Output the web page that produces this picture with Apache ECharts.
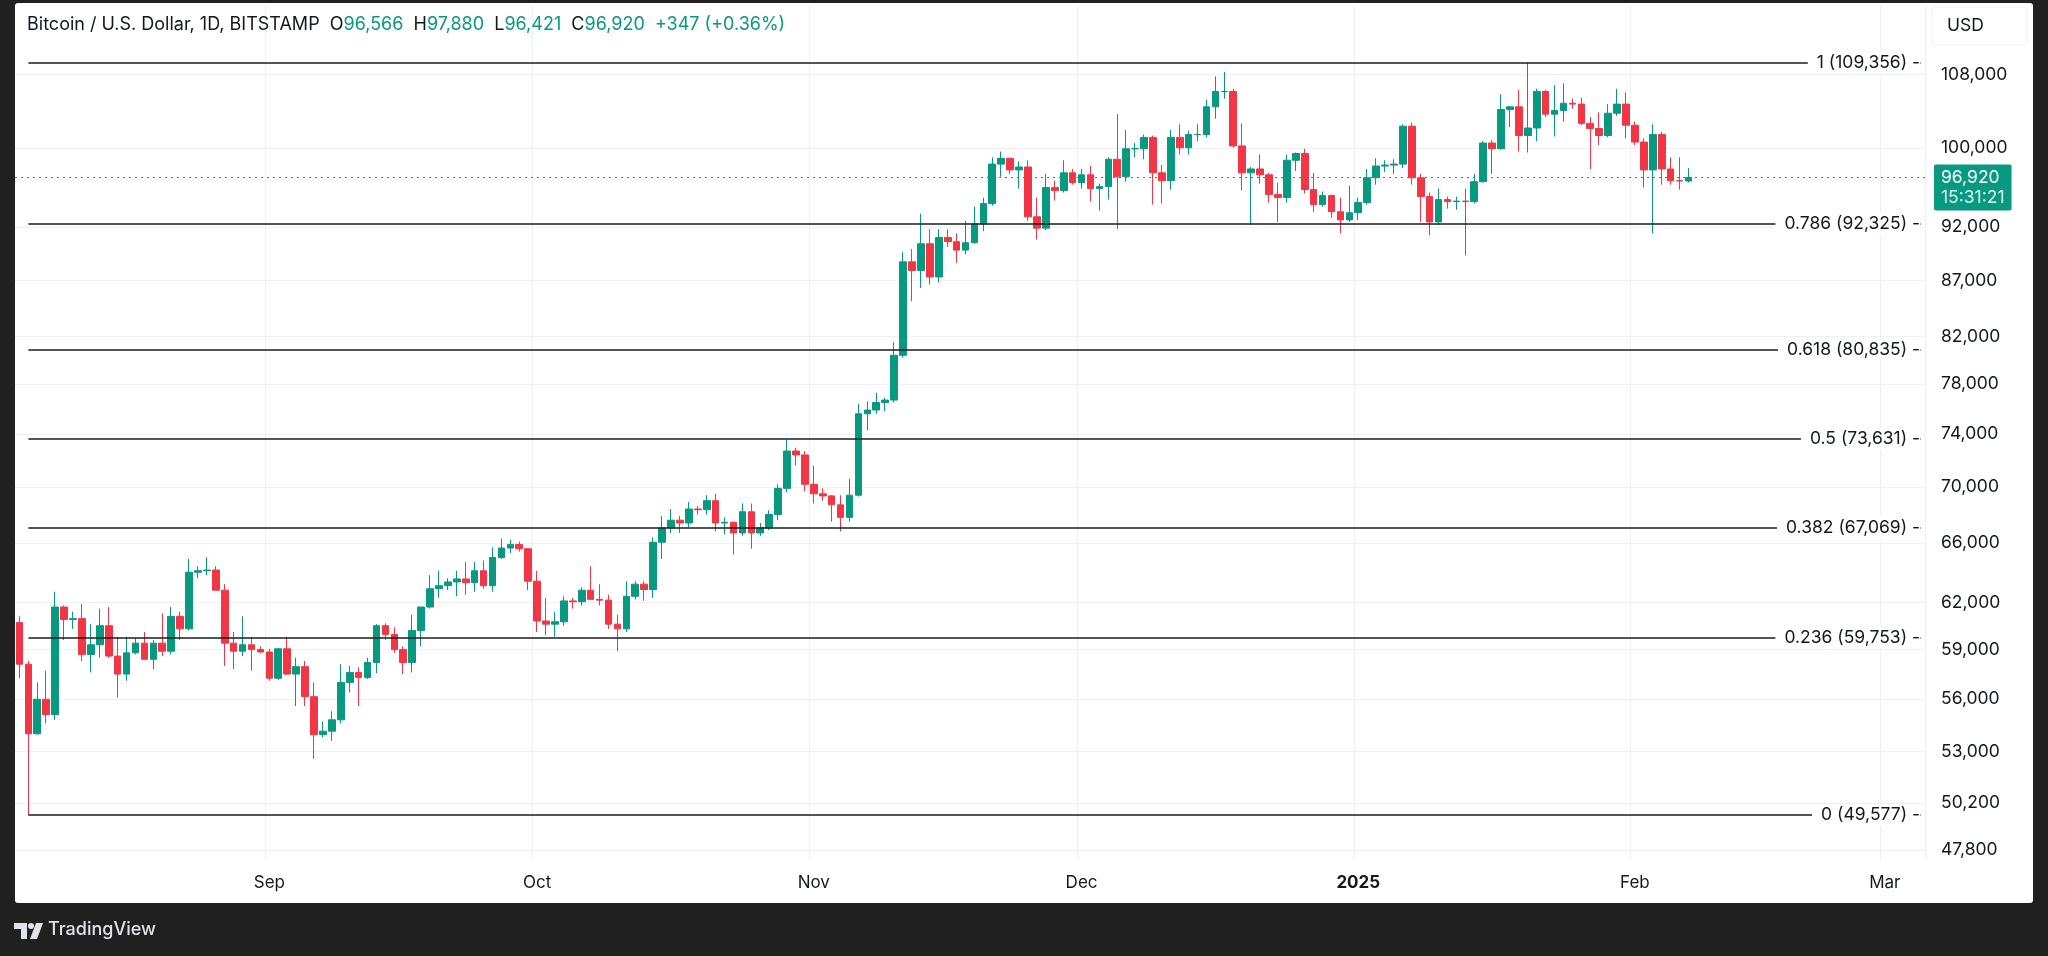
<!DOCTYPE html>
<html><head><meta charset="utf-8">
<script src="https://cdn.jsdelivr.net/npm/echarts@6/dist/echarts.min.js"></script>
<style>html,body{margin:0;padding:0;background:#202020;}#c{width:2048px;height:956px;}</style>
</head><body><div id="c"></div>
<script>
// Daily candles [open, high, low, close], BTC/USD Bitstamp
const aug = [ // Aug 4 – Aug 31, 2024
[60700,61100,57250,58100],[58100,58300,49577,54000],[54000,57000,53950,56000],[56000,57700,54600,55100],
[55100,62700,54800,61700],[61700,61800,59600,60900],[60900,61400,60300,60950],[60950,61900,58300,58700],
[58700,60600,57600,59300],[59300,61600,58500,60500],[60500,61700,58500,58600],[58600,59800,56100,57500],
[57500,59800,57100,58800],[58800,59700,58700,59400],[59400,60100,58400,58400],[58400,59600,57800,59400],
[59400,61300,58600,58900],[58900,61700,58700,61100],[61100,61400,59600,60300],[60300,64900,60200,64000],
[64000,64400,63600,64100],[64100,65000,63800,64150],[64150,64400,62800,62800],[62800,63200,58000,59400],
[59400,60100,57800,58900],[58900,61100,58600,59300],[59300,59800,57700,59000],[59000,59200,58800,58850]
];
const sep = [
[58850,59050,57100,57250],[57250,59100,57150,59050],[59050,59800,57450,57500],[57500,58500,55600,57950],
[57950,58300,55600,56150],[56150,57000,52600,53950],[53950,54700,53800,54150],[54150,55300,53600,54800],
[54800,58100,54600,57000],[57000,58000,56400,57600],[57600,57900,55600,57300],[57300,58500,57200,58200],
[58200,60600,57550,60500],[60500,60650,59600,59950],[59950,60400,58800,59000],[59000,59200,57500,58200],
[58200,61200,57600,60200],[60200,61700,59200,61700],[61700,63800,61600,62900],[62900,64100,62300,63100],
[63100,63600,62800,63350],[63350,64100,62400,63550],[63550,64700,62500,63300],[63300,64700,62700,64100],
[64100,64800,62900,63100],[63100,65700,62700,65000],[65000,66300,64900,65650],[65650,66200,65300,65900],
[65900,66100,65400,65600],[65600,65600,62800,63400]
];
const oct = [
[63400,64100,60100,60800],[60800,62300,59900,60600],[60600,61400,59800,60750],[60750,62400,60500,62100],
[62100,62300,61600,62050],[62050,63000,61800,62800],[62800,64400,62200,62200],[62200,63200,61800,62150],
[62150,62500,60300,60600],[60600,61200,58900,60300],[60300,63400,60100,62400],[62400,63400,62200,63200],
[63200,63400,62100,62850],[62850,66400,62300,66050],[66050,67900,64900,67050],[67050,68400,66700,67600],
[67600,67900,66700,67400],[67400,68900,67100,68400],[68400,68600,68000,68350],[68350,69400,68000,69000],
[69000,69500,66800,67400],[67400,67800,66600,67450],[67450,67500,65200,66700],[66700,68800,66500,68200],
[68200,68800,65600,66700],[66700,67400,66500,67050],[67050,68300,66900,68000],[68000,70200,67600,69900],
[69900,73600,69600,72700],[72700,72950,71600,72400],[72400,72700,69700,70200]
];
const nov = [
[70200,71600,68800,69500],[69500,69900,69000,69350],[69350,69400,67500,68700],[68700,69400,66800,67800],
[67800,70600,67500,69400],[69400,76400,69300,75600],[75600,76600,74300,75900],[75900,77300,75600,76500],
[76500,76900,75800,76700],[76700,81500,76500,80400],[80400,89600,80200,88700],[88700,89900,85100,87900],
[87900,93300,86300,90400],[90400,91800,86600,87300],[87300,91800,86800,91000],[91000,91800,90100,90600],
[90600,91400,88600,89800],[89800,92600,89400,90500],[90500,94000,90400,92300],[92300,94900,91600,94300],
[94300,99000,94100,98300],[98300,99600,97000,98900],[98900,98900,97300,97700],[97700,98600,95800,98000],
[98000,98700,92600,93000],[93000,94900,90800,91900],[91900,97300,91700,95900],[95900,96600,94600,95600],
[95600,98700,95400,97400],[97400,97800,96200,96400]
];
const dec = [
[96400,97800,95800,97200],[97200,98100,94500,95800],[95800,96300,93600,96000],[96000,99000,94700,98800],
[98800,103600,91800,97000],[97000,101900,96500,99900],[99900,100500,99000,99900],[99900,101400,98800,101100],
[101100,101300,94200,97400],[97400,98200,94300,96600],[96600,101900,95700,101100],[101100,102500,99300,100000],
[100000,101800,99300,101400],[101400,102500,100700,101400],[101400,105200,101100,104400],[104400,107800,103100,106100],
[106100,108300,105300,106100],[106100,106400,100000,100200],[100200,102600,95600,97400],[97400,98000,92200,97800],
[97800,99300,96300,97200],[97200,97400,94400,95200],[95200,96400,92500,94900],[94900,99300,94400,98700],
[98700,99500,97600,99400],[99400,99900,95300,95700],[95700,97400,93500,94200],[94200,95500,94000,95100],
[95100,95200,92900,93500],[93500,94900,91400,92700],[92700,96100,92500,93400]
];
const jan = [
[93400,94900,92700,94400],[94400,97800,94200,96900],[96900,98900,96200,98100],[98100,98700,97500,98200],
[98200,98800,97300,98300],[98300,102500,97900,102300],[102300,102700,96200,96900],[96900,97300,92500,95000],
[95000,95400,91200,92500],[92500,95800,92200,94700],[94700,95000,93800,94500],[94500,95000,93700,94550],
[94550,95800,89300,94500],[94500,97300,94300,96500],[96500,100700,96400,100500],[100500,100800,97300,99900],
[99900,105800,99800,104100],[104100,104500,102200,104400],[104400,106300,99600,101300],[101300,109356,99500,102100],
[102100,106400,100700,106100],[106100,106300,103300,103600],[103600,106800,101200,104000],[104000,107000,102800,104800],
[104800,105300,104200,104700],[104700,105400,102400,102600],[102600,103300,97800,102050],[102050,103800,100300,101300],
[101300,104700,101100,103700],[103700,106400,103400,104700],[104700,106000,101000,102400]
];
const feb = [ // Feb 1 – Feb 7, 2025
[102400,102800,100300,100600],[100600,101000,95900,97700],[97700,102500,91400,101400],[101400,101700,96200,97800],
[97800,99000,96200,96600],[96600,99000,95700,96573],[96566,97880,96421,96920]
];

const fibLevels = [1, 0.786, 0.618, 0.5, 0.382, 0.236, 0];
const fibPrices = [109356, 92325, 80835, 73631, 67069, 59753, 49577];
const yTicks = [47800, 50200, 53000, 56000, 59000, 62000, 66000, 70000, 74000, 78000, 82000, 87000, 92000, 100000, 108000];
const monthNames = ['Jan','Feb','Mar','Apr','May','Jun','Jul','Aug','Sep','Oct','Nov','Dec'];
const title = 'Bitcoin / U.S. Dollar, 1D, BITSTAMP';
const countdown = '15:31:21';

// categories: one per day, Aug 4 2024 to Mar 5 2025 (future days left empty)
const startDate = Date.UTC(2024, 7, 4);
const dayCount = 214;
const categories = [];
for (let i = 0; i < dayCount; i++) categories.push(new Date(startDate + i * 86400000).toISOString().slice(0, 10));

const ohlc = [...aug, ...sep, ...oct, ...nov, ...dec, ...jan, ...feb];
const candleData = ohlc.map(([o, h, l, c]) => [o, c, l, h]);

const F = 'Inter, "Noto Sans", sans-serif';
const UP = '#089981', DOWN = '#F23645', TXT = '#131722', GRID = '#eef0f3';
const fmt = v => Math.round(v).toLocaleString('en-US');
const last = ohlc[ohlc.length - 1], prev = ohlc[ohlc.length - 2];
const chg = last[3] - prev[3];
const pct = chg / prev[3] * 100;
const sign = chg >= 0 ? '+' : '';
const lastIdx = categories.length - 1;
const fibStartIdx = 1;
const isMonthStart = (i, v) => v.endsWith('-01');

const fibLines = fibPrices.map(p => [
  { coord: [fibStartIdx, p] },
  { coord: [lastIdx, p] }
]);
const fibLabels = fibPrices.map((p, i) => ({
  coord: [lastIdx, p],
  name: fibLevels[i] + ' (' + fmt(p) + ') -'
}));

const chart = echarts.init(document.getElementById('c'), null, { renderer: 'canvas' });
chart.setOption({
  backgroundColor: '#202020',
  animation: false,
  textStyle: { fontFamily: F },
  grid: { left: 15, right: 123, top: 5, bottom: 96 },
  graphic: [
    { type: 'rect', z: -10, shape: { x: 15, y: 3, width: 2018, height: 900, r: 3 }, style: { fill: '#ffffff' } },
    { type: 'rect', z: 10, shape: { x: 1932, y: 7, width: 95, height: 38, r: 4 }, style: { fill: '#ffffff', stroke: '#f0f1f3', lineWidth: 1 } },
    { type: 'text', z: 11, left: 1947, top: 17, style: { text: 'USD', fill: TXT, font: '17.5px ' + F } },
    { type: 'text', z: 11, left: 27, top: 16, style: {
        text: '{t|' + title + '}  {t|O}{g|' + fmt(last[0]) + '}  {t|H}{g|' + fmt(last[1]) + '}  {t|L}{g|' + fmt(last[2]) + '}  {t|C}{g|' + fmt(last[3]) + '}  {g|' + sign + fmt(chg) + ' (' + sign + pct.toFixed(2) + '%)}',
        font: '18px ' + F, fill: TXT,
        rich: { t: { fill: TXT, fontSize: 18, fontFamily: F }, g: { fill: UP, fontSize: 18, fontFamily: F } }
      } },
    { type: 'polygon', z: 11, shape: { points: [[14,923],[27,923],[27,939],[21,939],[21,929],[14,929]] }, style: { fill: '#e1e3e8' } },
    { type: 'circle', z: 11, shape: { cx: 31, cy: 926, r: 3 }, style: { fill: '#e1e3e8' } },
    { type: 'polygon', z: 11, shape: { points: [[36,923],[43,923],[37,939],[30,939]] }, style: { fill: '#e1e3e8' } },
    { type: 'text', z: 11, left: 48, top: 921, style: { text: 'TradingView', fill: '#e1e3e8', font: '500 18px ' + F } }
  ],
  xAxis: {
    type: 'category', data: categories, boundaryGap: true,
    axisLine: { show: false }, axisTick: { show: false },
    axisLabel: {
      interval: isMonthStart, margin: 14, color: TXT, fontSize: 17, fontFamily: F,
      formatter: v => v.slice(5, 7) === '01' ? '{b|' + v.slice(0, 4) + '}' : monthNames[+v.slice(5, 7) - 1],
      rich: { b: { fontWeight: 'bold', fontSize: 17, color: TXT, fontFamily: F } }
    },
    splitLine: { show: true, interval: isMonthStart, lineStyle: { color: GRID, width: 1 } }
  },
  yAxis: {
    type: 'log', logBase: 10, position: 'right', min: 47290, max: 116200,
    axisLine: { show: false },
    axisTick: { show: false, customValues: yTicks },
    axisLabel: { customValues: yTicks, formatter: v => fmt(v), color: TXT, fontSize: 17.5, fontFamily: F, margin: 16 },
    splitLine: { show: true, lineStyle: { color: GRID, width: 1 } }
  },
  series: [{
    type: 'candlestick',
    data: candleData,
    barWidth: '80%',
    itemStyle: { color: UP, color0: DOWN, borderColor: UP, borderColor0: DOWN, borderWidth: 1 },
    markLine: {
      z: 5, silent: true, symbol: ['none', 'none'], animation: false,
      label: { show: false },
      lineStyle: { color: '#1c1c1c', width: 1.5, type: 'solid' },
      data: [
        ...fibLines,
        {
          yAxis: last[3],
          lineStyle: { color: UP, width: 1.2, type: [2, 4] },
          label: {
            show: true, position: 'end', distance: 9, offset: [0, 10],
            backgroundColor: UP, padding: [3, 7, 3, 7], borderRadius: 2,
            formatter: '{p|' + fmt(last[3]) + '}\n{t|' + countdown + '}',
            rich: {
              p: { color: '#ffffff', fontSize: 17.5, fontFamily: F, lineHeight: 20 },
              t: { color: 'rgba(255,255,255,0.85)', fontSize: 17.5, fontFamily: F, lineHeight: 20 }
            }
          }
        }
      ]
    },
    markPoint: {
      z: 10, silent: true, animation: false,
      symbol: 'rect', symbolSize: 1, itemStyle: { color: 'rgba(0,0,0,0)' },
      label: {
        show: true, position: 'left', distance: 0, formatter: '{b}',
        color: TXT, fontSize: 17.5, fontFamily: F,
        backgroundColor: '#ffffff', padding: [2, 0, 2, 9]
      },
      data: fibLabels
    }
  }]
});
</script>
</body></html>
